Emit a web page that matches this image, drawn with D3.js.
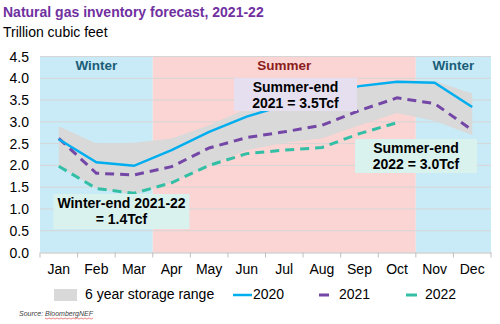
<!DOCTYPE html>
<html>
<head>
<meta charset="utf-8">
<script src="https://cdn.jsdelivr.net/npm/d3@7"></script>
<style>
  body { margin: 0; background: #fff; }
  svg { display: block; font-family: "Liberation Sans", Arial, sans-serif; }
</style>
</head>
<body>
<div id="chart"></div>
<script>
const months = ["Jan", "Feb", "Mar", "Apr", "May", "Jun", "Jul", "Aug", "Sep", "Oct", "Nov", "Dec"];
const yTicks = [0, 0.5, 1, 1.5, 2, 2.5, 3, 3.5, 4, 4.5];

// six year range (upper / lower)
const rangeHigh = [2.9, 2.5, 2.52, 2.62, 2.92, 3.3, 3.45, 3.65, 3.85, 3.95, 3.94, 3.65];
const rangeLow  = [1.98, 1.47, 1.33, 1.6, 2.0, 2.35, 2.52, 2.62, 2.92, 3.2, 3.02, 2.7];

const s2020 = [2.6, 2.07, 1.99, 2.35, 2.77, 3.12, 3.38, 3.62, 3.82, 3.92, 3.9, 3.34];
const s2021 = [2.62, 1.82, 1.78, 1.97, 2.4, 2.64, 2.77, 2.92, 3.26, 3.55, 3.42, 2.81];
const s2022 = [1.98, 1.47, 1.36, 1.6, 2.0, 2.27, 2.35, 2.41, 2.73, 2.98];

const seasons = [
  {name: "Winter", from: "Jan", to: "Mar"},
  {name: "Summer", from: "Apr", to: "Oct"},
  {name: "Winter", from: "Nov", to: "Dec"}
];

const width = 500, height = 324;
const plotLeft = 40, plotRight = 491, plotTop = 56.5, plotBottom = 252.5;
const fs = 14;

const svg = d3.select("#chart").append("svg")
    .attr("width", width)
    .attr("height", height);

const x = d3.scaleBand().domain(months).range([plotLeft, plotRight]);
const y = d3.scaleLinear().domain([0, 4.5]).range([plotBottom, plotTop]);
const cx = m => x(m) + x.bandwidth() / 2;

// season bands
svg.selectAll(".season")
    .data(seasons)
    .enter().append("rect")
    .attr("x", d => x(d.from))
    .attr("y", y(4.5))
    .attr("width", d => x(d.to) + x.bandwidth() - x(d.from))
    .attr("height", y(0) - y(4.5))
    .attr("fill", d => d.name == "Winter" ? "#c9ebf7" : "#fbd5d4");

// gridlines
svg.selectAll(".grid")
    .data(yTicks.slice(1))
    .enter().append("line")
    .attr("x1", plotLeft).attr("x2", plotRight)
    .attr("y1", d => y(d)).attr("y2", d => y(d))
    .attr("stroke", "#d6d6d6")
    .attr("stroke-width", 1);

// storage range area
const area = d3.area()
    .x((d, i) => cx(months[i]))
    .y0((d, i) => y(rangeLow[i]))
    .y1(d => y(d));
svg.append("path")
    .datum(rangeHigh)
    .attr("d", area)
    .attr("fill", "#d9d9d9");

// season labels
svg.selectAll(".seasonLabel")
    .data(seasons)
    .enter().append("text")
    .attr("x", d => (x(d.from) + x(d.to) + x.bandwidth()) / 2)
    .attr("y", 70)
    .attr("text-anchor", "middle")
    .attr("font-size", 13.5)
    .attr("font-weight", "bold")
    .attr("fill", d => d.name == "Winter" ? "#1b5e78" : "#8c1c1c")
    .text(d => d.name);

// x axis
const xAxis = svg.append("g")
    .attr("transform", `translate(0,${plotBottom})`)
    .call(d3.axisBottom(x).tickSize(0).tickPadding(12));
xAxis.select(".domain").attr("stroke", "#bfbfbf");
xAxis.selectAll("text").attr("font-size", fs).attr("fill", "#000")
    .style("font-family", "Liberation Sans, Arial, sans-serif");
svg.selectAll(".xtick")
    .data(months.concat(["end"]))
    .enter().append("line")
    .attr("x1", (d, i) => plotLeft + i * x.bandwidth())
    .attr("x2", (d, i) => plotLeft + i * x.bandwidth())
    .attr("y1", plotBottom).attr("y2", plotBottom + 5)
    .attr("stroke", "#bfbfbf");

// y axis labels
svg.selectAll(".ylab")
    .data(yTicks)
    .enter().append("text")
    .attr("x", 29)
    .attr("y", d => y(d) + 5)
    .attr("text-anchor", "end")
    .attr("font-size", fs)
    .text(d => d.toFixed(1));

// lines
const line = d3.line()
    .x((d, i) => cx(months[i]))
    .y(d => y(d));

svg.append("path").datum(s2022)
    .attr("d", line).attr("fill", "none")
    .attr("stroke", "#33bfa5").attr("stroke-width", 3)
    .attr("stroke-dasharray", "9,6");
svg.append("path").datum(s2021)
    .attr("d", line).attr("fill", "none")
    .attr("stroke", "#7447a6").attr("stroke-width", 3)
    .attr("stroke-dasharray", "9,6");
svg.append("path").datum(s2020)
    .attr("d", line).attr("fill", "none")
    .attr("stroke", "#00aeef").attr("stroke-width", 2.5);

// callout boxes
const callouts = [
  {x: 234, y: 78, w: 123, h: 33, fill: "#e6dff0", lines: ["Summer-end", "2021 = 3.5Tcf"]},
  {x: 355, y: 139, w: 122, h: 34, fill: "#daf2ee", lines: ["Summer-end", "2022 = 3.0Tcf"]},
  {x: 53.5, y: 194, w: 136, h: 35, fill: "#daf2ee", lines: ["Winter-end 2021-22", "= 1.4Tcf"]}
];
const box = svg.selectAll(".callout")
    .data(callouts)
    .enter().append("g");
box.append("rect")
    .attr("x", d => d.x).attr("y", d => d.y)
    .attr("width", d => d.w).attr("height", d => d.h)
    .attr("fill", d => d.fill);
box.each(function(d) {
  d3.select(this).selectAll("text")
    .data(d.lines)
    .enter().append("text")
    .attr("x", d.x + d.w / 2)
    .attr("y", (t, i) => d.y + 14 + i * 16)
    .attr("text-anchor", "middle")
    .attr("font-size", fs)
    .attr("font-weight", "bold")
    .text(t => t);
});

// title
svg.append("text")
    .attr("x", 3).attr("y", 17)
    .attr("font-size", fs)
    .attr("font-weight", "bold")
    .attr("fill", "#7030a0")
    .text("Natural gas inventory forecast, 2021-22");
svg.append("text")
    .attr("x", 3).attr("y", 37)
    .attr("font-size", fs)
    .text("Trillion cubic feet");

// legend
const lg = svg.append("g");
lg.append("rect").attr("x", 54).attr("y", 289).attr("width", 23).attr("height", 12).attr("fill", "#d9d9d9");
lg.append("text").attr("x", 85).attr("y", 299).attr("font-size", fs).text("6 year storage range");
lg.append("line").attr("x1", 233).attr("x2", 252).attr("y1", 295).attr("y2", 295)
    .attr("stroke", "#00aeef").attr("stroke-width", 2.5);
lg.append("text").attr("x", 253).attr("y", 299).attr("font-size", fs).text("2020");
lg.append("line").attr("x1", 319).attr("x2", 329).attr("y1", 295).attr("y2", 295)
    .attr("stroke", "#7447a6").attr("stroke-width", 3);
lg.append("text").attr("x", 339).attr("y", 299).attr("font-size", fs).text("2021");
lg.append("line").attr("x1", 406).attr("x2", 417).attr("y1", 295).attr("y2", 295)
    .attr("stroke", "#33bfa5").attr("stroke-width", 3);
lg.append("text").attr("x", 425).attr("y", 299).attr("font-size", fs).text("2022");

// source
const src = svg.append("text")
    .attr("x", 19).attr("y", 316)
    .attr("font-size", 7)
    .attr("font-style", "italic")
    .attr("fill", "#404040");
src.append("tspan").text("Source: ");
src.append("tspan").attr("id", "bnef").text("BloombergNEF");
const bn = svg.select("#bnef").node();
const ext = bn.getComputedTextLength();
const sx = 19 + src.node().getSubStringLength(0, 8);
const wave = [];
for (let i = 0; i <= Math.ceil(ext / 2); i++) wave.push([sx + i * 2, 318 + (i % 2 ? 1 : 0)]);
svg.append("path").attr("d", d3.line()(wave))
    .attr("fill", "none").attr("stroke", "#e03030").attr("stroke-width", 0.6);
</script>
</body>
</html>
